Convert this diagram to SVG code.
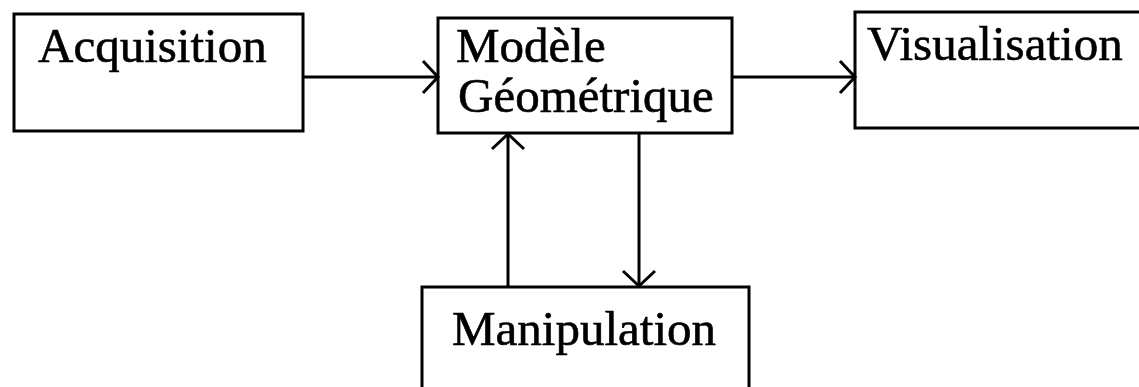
<svg xmlns="http://www.w3.org/2000/svg" width="1139" height="387" viewBox="0 0 1139 387">
<style>
.box{fill:#fff;stroke:#000;stroke-width:3}
.lbl{font-family:"Liberation Serif","Times New Roman",serif;font-size:49px;fill:#000;stroke:#000;stroke-width:0.6}
.conn{fill:none;stroke:#000;stroke-width:3}
</style>
<defs>
<marker id="arr" viewBox="0 0 20 36" refX="17" refY="18" markerWidth="20" markerHeight="36" markerUnits="userSpaceOnUse" orient="auto">
<path d="M2,2 L17,18 L2,34" fill="none" stroke="#000" stroke-width="3"/>
</marker>
</defs>
<rect width="1139" height="387" fill="#fff"/>
<g id="acquisition">
<rect class="box" x="14" y="14" width="289" height="117"/>
<text class="lbl" x="38" y="62">Acquisition</text>
</g>
<g id="modele">
<rect class="box" x="438" y="18" width="294" height="115"/>
<text class="lbl" x="456" y="62">Modèle</text>
<text class="lbl" x="458" y="112">Géométrique</text>
</g>
<g id="visualisation">
<rect class="box" x="855" y="12" width="300" height="116"/>
<text class="lbl" x="867" y="60">Visualisation</text>
</g>
<g id="manipulation">
<rect class="box" x="422" y="287" width="327" height="130"/>
<text class="lbl" x="452" y="345">Manipulation</text>
</g>
<g id="connectors">
<line class="conn" x1="303" y1="77" x2="438" y2="77" marker-end="url(#arr)"/>
<line class="conn" x1="732" y1="77" x2="855" y2="77" marker-end="url(#arr)"/>
<line class="conn" x1="508" y1="287" x2="508" y2="134" marker-end="url(#arr)"/>
<line class="conn" x1="639" y1="133" x2="639" y2="286" marker-end="url(#arr)"/>
</g>
</svg>
